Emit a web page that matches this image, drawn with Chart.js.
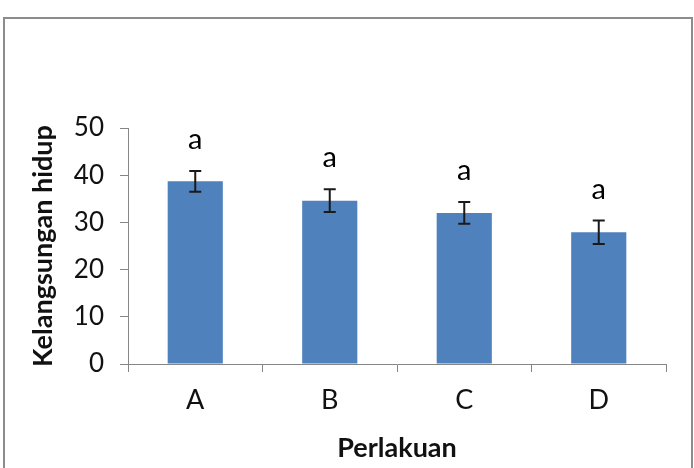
<!DOCTYPE html>
<html>
<head>
<meta charset="utf-8">
<script src="https://cdn.jsdelivr.net/npm/chart.js@4"></script>
<style>
  html, body { margin: 0; padding: 0; background: #fff; }
  #wrap { position: relative; width: 694px; height: 468px; overflow: hidden; }
  #frame { position: absolute; left: 3px; top: 17px; width: 686px; height: 470px; border: 2px solid #8c8c8c; }
  canvas { position: absolute; left: 0; top: 0; }
</style>
</head>
<body>
<div id="wrap">
  <div id="frame"></div>
  <canvas id="survivalChart" width="694" height="468"></canvas>
</div>
<script>
const treatments = ['A', 'B', 'C', 'D'];
const survival = [38.7, 34.6, 32.0, 27.9];
const errors = [2.2, 2.4, 2.3, 2.5];
const sigLabels = ['a', 'a', 'a', 'a'];
const yTicks = [0, 10, 20, 30, 40, 50];

const axisGray = '#868686';
const fontName = 'Lato, "Open Sans", sans-serif';

// error bars + significance letters on top of each bar
const errorBarPlugin = {
  id: 'errorBars',
  afterDatasetsDraw(chart) {
    const ctx = chart.ctx;
    const yScale = chart.scales.y;
    const meta = chart.getDatasetMeta(0);
    ctx.save();
    meta.data.forEach((bar, i) => {
      const x = bar.x;
      const top = yScale.getPixelForValue(survival[i] + errors[i]);
      const bottom = yScale.getPixelForValue(survival[i] - errors[i]);
      ctx.strokeStyle = '#1a1a1a';
      ctx.lineWidth = 2;
      ctx.beginPath();
      ctx.moveTo(x, top); ctx.lineTo(x, bottom);
      ctx.moveTo(x - 6, top); ctx.lineTo(x + 6, top);
      ctx.moveTo(x - 6, bottom); ctx.lineTo(x + 6, bottom);
      ctx.stroke();

      ctx.fillStyle = '#000';
      ctx.font = '29px ' + fontName;
      ctx.textAlign = 'center';
      ctx.textBaseline = 'alphabetic';
      ctx.fillText(sigLabels[i], x, top - 22);
    });
    ctx.restore();
  }
};

const ctx = document.getElementById('survivalChart').getContext('2d');
const survivalChart = new Chart(ctx, {
  type: 'bar',
  data: {
    labels: treatments,
    datasets: [{
      label: 'Kelangsungan hidup',
      data: survival,
      backgroundColor: '#4f81bd',
      borderWidth: 0,
      barPercentage: 0.41,
      categoryPercentage: 1
    }]
  },
  options: {
    responsive: false,
    animation: false,
    layout: { padding: { top: 128, right: 28, left: 0, bottom: 0 } },
    plugins: {
      legend: { display: false },
      tooltip: { enabled: false }
    },
    scales: {
      x: {
        afterFit(scale) { scale.height = 104; },
        grid: { display: true, drawOnChartArea: false, drawTicks: true, tickLength: 8, color: axisGray, offset: true },
        border: { display: true, color: axisGray, width: 1 },
        ticks: { color: '#111', font: { family: fontName, size: 27 }, padding: 12 },
        title: {
          display: true,
          text: 'Perlakuan',
          color: '#111',
          font: { family: fontName, size: 27, weight: 'bold' },
          padding: { top: 0, bottom: 4 }
        }
      },
      y: {
        min: 0,
        max: 50,
        afterFit(scale) { scale.width = 128; },
        afterBuildTicks(scale) { scale.ticks = yTicks.map(v => ({ value: v })); },
        grid: { display: true, drawOnChartArea: false, drawTicks: true, tickLength: 8, color: axisGray },
        border: { display: true, color: axisGray, width: 1 },
        ticks: { color: '#111', font: { family: fontName, size: 26 }, padding: 16 },
        title: {
          display: true,
          text: 'Kelangsungan hidup',
          color: '#111',
          font: { family: fontName, size: 27, weight: 'bold' },
          padding: { top: 27, bottom: 0 }
        }
      }
    }
  },
  plugins: [errorBarPlugin]
});
</script>
</body>
</html>
